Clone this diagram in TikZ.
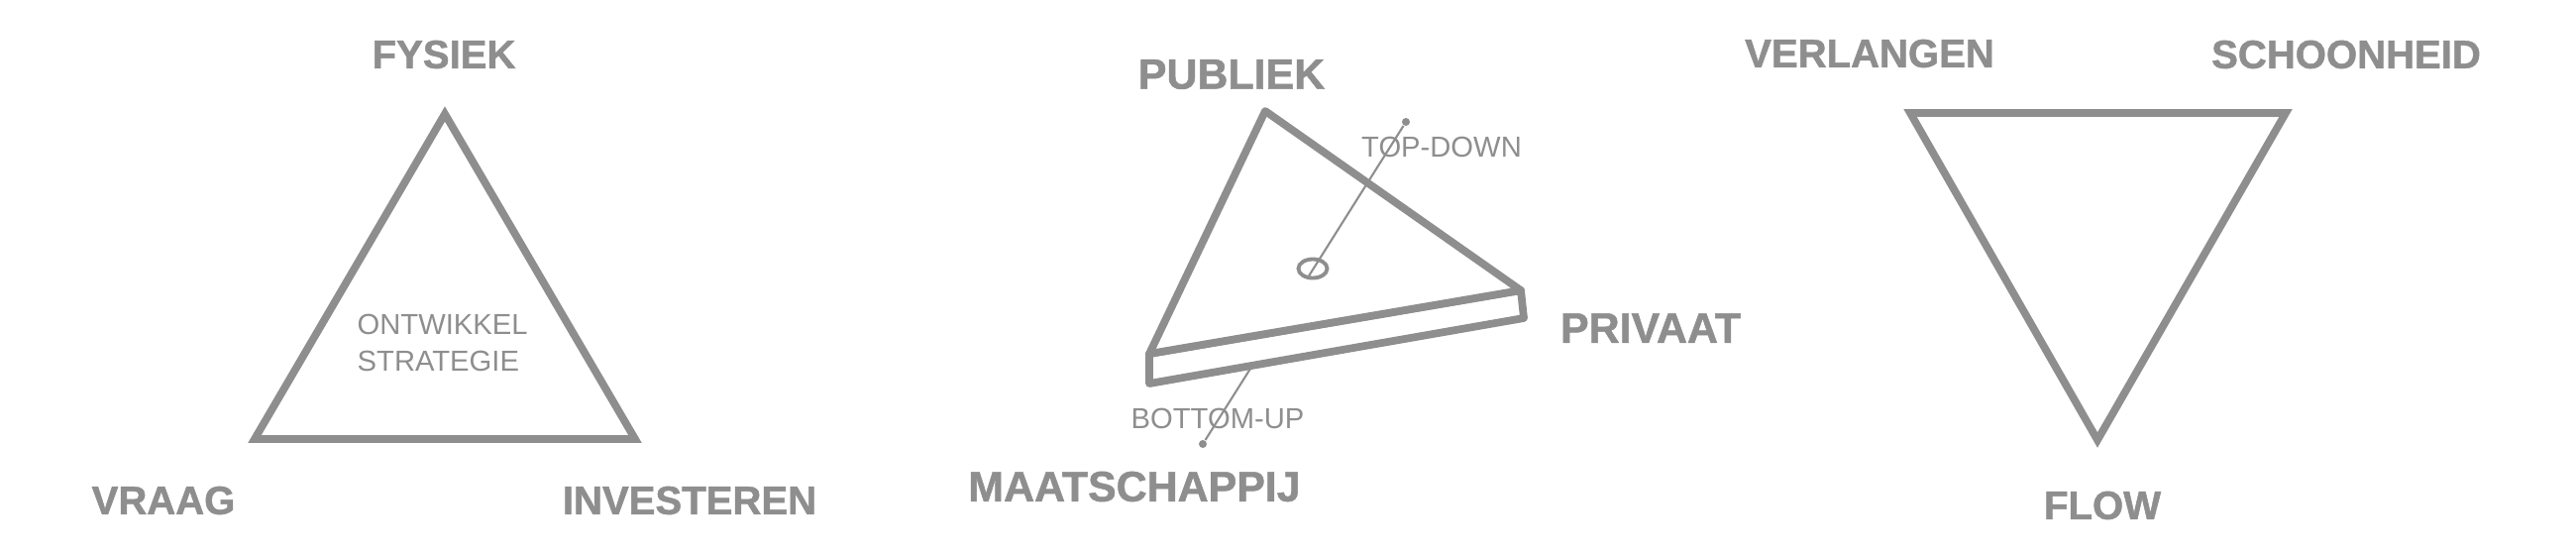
\documentclass[tikz,border=0pt]{standalone}
\usepackage{fontspec}
\setmainfont{Liberation Sans}
\newfontfamily\heavyfont[FakeBold=1.2]{Liberation Sans Bold}
\usetikzlibrary{shapes.geometric}
\definecolor{dgrey}{RGB}{142,142,142}
\tikzset{
  pole/.style={font=\fontsize{11.4}{13}\selectfont\heavyfont, text=dgrey, inner sep=0pt},
  bigpole/.style={pole, font=\fontsize{12.2}{14}\selectfont\heavyfont},
  note/.style={font=\fontsize{8.3}{10.5}\selectfont, text=dgrey, inner sep=0pt},
  edge/.style={draw=dgrey, line width=2.2pt, line join=miter},
  axis/.style={draw=dgrey, line width=0.6pt},
  dot/.style={circle, fill=dgrey, inner sep=0pt, minimum size=0.08cm},
}
\begin{document}
\begin{tikzpicture}[x=0.01cm, y=-0.01cm]
    \useasboundingbox (0,0) rectangle (2600,557);
    % ontwikkelstrategie
    \draw[edge] (449,115) -- (641,443) -- (257,443) -- cycle;
    \node[pole] (fysiek) at (448,55) {FYSIEK};
    \node[pole] (vraag) at (165,505) {VRAAG};
    \node[pole] (investeren) at (696,505) {INVESTEREN};
    \node[note, align=left, anchor=west] (strategie) at (360,346) {ONTWIKKEL\\STRATEGIE};
    % publiek / privaat plaat
    \node[dot] (topdot) at (1419,123) {};
    \node[dot] (botdot) at (1214,448) {};
    \coordinate (holein) at (1320,280);
    \coordinate (slabcut) at (1262,372);
    \draw[edge, fill=white, line join=round] (1160,357) -- (1535,293) -- (1538,321) -- (1160,387) -- cycle;
    \draw[edge, fill=white, line join=round] (1277,112) -- (1535,293) -- (1160,357) -- cycle;
    \node[draw=dgrey, line width=1.1pt, ellipse, minimum width=0.29cm, minimum height=0.19cm, inner sep=0pt] (hole) at (1325,271) {};
    \draw[axis] (holein) -- (topdot);
    \draw[axis] (botdot) -- (slabcut);
    \node[note] (topdown) at (1455,148) {TOP-DOWN};
    \node[note] (bottomup) at (1229,422) {BOTTOM-UP};
    \node[bigpole] (publiek) at (1243,75) {PUBLIEK};
    \node[bigpole] (privaat) at (1666,331) {PRIVAAT};
    \node[bigpole] (maatschappij) at (1145,491) {MAATSCHAPPIJ};
    % flow
    \draw[edge] (1928,114) -- (2307,114) -- (2117,444) -- cycle;
    \node[pole] (verlangen) at (1887,54) {VERLANGEN};
    \node[pole] (schoonheid) at (2368,55) {SCHOONHEID};
    \node[pole] (flow) at (2122,510) {FLOW};
\end{tikzpicture}
\end{document}
